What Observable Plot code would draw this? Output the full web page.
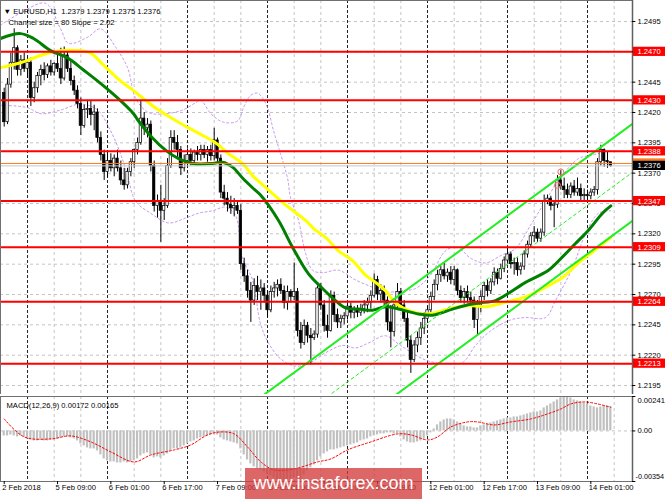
<!DOCTYPE html>
<html><head><meta charset="utf-8">
<script src="https://cdn.jsdelivr.net/npm/d3@7"></script>
<script src="https://cdn.jsdelivr.net/npm/@observablehq/plot@0.6"></script>
<style>
body{margin:0;background:#fff;font-family:"Liberation Sans",Arial,sans-serif;}
#wrap{position:relative;width:665px;height:499px;overflow:hidden;background:#fff;}
#main{position:absolute;left:0;top:0;}
#macd{position:absolute;left:0;top:394px;}
#wm{position:absolute;left:245px;top:468px;width:177px;height:34px;background:rgba(212,60,60,0.78);color:#fff;font-family:"Liberation Sans",Arial,sans-serif;font-size:18px;line-height:31px;text-align:center;}
</style></head><body>
<div id="wrap"><div id="main"></div><div id="macd"></div><div id="wm">www.instaforex.com</div></div>
<script>
// ---------- data ----------
const opens = [1.2436,1.2412,1.2443,1.2461,1.2473,1.2455,1.2463,1.2456,1.2461,1.2432,
1.2440,1.2450,1.2455,1.2451,1.2458,1.2453,1.2460,1.2456,1.2448,1.2467,
1.2456,1.2446,1.2438,1.2427,1.2409,1.2422,1.2423,1.2418,1.2420,1.2399,
1.2385,1.2371,1.2380,1.2374,1.2382,1.2374,1.2364,1.2360,1.2371,1.2379,
1.2389,1.2395,1.2415,1.2407,1.2410,1.2376,1.2343,1.2347,1.2339,1.2343,
1.2376,1.2399,1.2395,1.2389,1.2374,1.2380,1.2385,1.2380,1.2387,1.2385,
1.2389,1.2385,1.2389,1.2384,1.2397,1.2382,1.2354,1.2349,1.2344,1.2341,
1.2343,1.2339,1.2295,1.2285,1.2273,1.2265,1.2277,1.2272,1.2275,1.2269,
1.2257,1.2272,1.2275,1.2278,1.2273,1.2263,1.2272,1.2268,1.2272,1.2240,
1.2230,1.2244,1.2236,1.2234,1.2237,1.2275,1.2261,1.2244,1.2240,1.2269,
1.2253,1.2247,1.2250,1.2252,1.2260,1.2255,1.2257,1.2255,1.2258,1.2261,
1.2263,1.2269,1.2282,1.2270,1.2273,1.2265,1.2247,1.2239,1.2261,1.2272,
1.2261,1.2250,1.2232,1.2216,1.2228,1.2234,1.2242,1.2250,1.2257,1.2268,
1.2278,1.2286,1.2290,1.2285,1.2288,1.2282,1.2290,1.2273,1.2267,1.2272,
1.2267,1.2265,1.2249,1.2261,1.2268,1.2277,1.2273,1.2280,1.2288,1.2283,
1.2291,1.2298,1.2303,1.2295,1.2296,1.2290,1.2293,1.2303,1.2311,1.2318,
1.2321,1.2316,1.2321,1.2347,1.2349,1.2343,1.2344,1.2364,1.2359,1.2356,
1.2352,1.2359,1.2354,1.2357,1.2351,1.2352,1.2351,1.2354,1.2356,1.2379,
1.2389,1.2380,1.2379];
const highs = [1.2440,1.2448,1.2469,1.2489,1.2475,1.2467,1.2469,1.2465,1.2465,1.2445,
1.2453,1.2459,1.2461,1.2460,1.2463,1.2461,1.2467,1.2473,1.2474,1.2471,
1.2463,1.2450,1.2442,1.2432,1.2426,1.2430,1.2430,1.2426,1.2423,1.2404,
1.2389,1.2387,1.2386,1.2385,1.2389,1.2380,1.2374,1.2374,1.2382,1.2390,
1.2399,1.2430,1.2420,1.2415,1.2413,1.2380,1.2352,1.2360,1.2349,1.2382,
1.2405,1.2405,1.2401,1.2392,1.2385,1.2390,1.2390,1.2389,1.2392,1.2393,
1.2393,1.2392,1.2393,1.2407,1.2399,1.2385,1.2360,1.2354,1.2351,1.2349,
1.2347,1.2344,1.2300,1.2290,1.2280,1.2283,1.2285,1.2282,1.2279,1.2273,
1.2277,1.2280,1.2282,1.2283,1.2277,1.2277,1.2274,1.2296,1.2275,1.2247,
1.2249,1.2247,1.2242,1.2240,1.2277,1.2279,1.2265,1.2253,1.2273,1.2272,
1.2258,1.2253,1.2255,1.2263,1.2263,1.2260,1.2261,1.2262,1.2265,1.2267,
1.2273,1.2287,1.2285,1.2278,1.2277,1.2268,1.2261,1.2265,1.2279,1.2275,
1.2265,1.2257,1.2236,1.2232,1.2239,1.2247,1.2255,1.2260,1.2272,1.2282,
1.2290,1.2293,1.2296,1.2291,1.2293,1.2293,1.2291,1.2277,1.2275,1.2277,
1.2272,1.2268,1.2265,1.2273,1.2280,1.2282,1.2283,1.2292,1.2291,1.2295,
1.2301,1.2308,1.2305,1.2300,1.2300,1.2296,1.2306,1.2314,1.2321,1.2326,
1.2324,1.2324,1.2352,1.2352,1.2351,1.2347,1.2368,1.2372,1.2366,1.2361,
1.2362,1.2364,1.2366,1.2361,1.2357,1.2356,1.2357,1.2359,1.2382,1.2393,
1.2390,1.2387,1.2379];
const lows = [1.2408,1.2410,1.2440,1.2455,1.2450,1.2450,1.2453,1.2448,1.2425,1.2428,
1.2436,1.2442,1.2446,1.2448,1.2450,1.2450,1.2453,1.2443,1.2446,1.2453,
1.2442,1.2434,1.2423,1.2401,1.2407,1.2415,1.2409,1.2405,1.2395,1.2380,
1.2364,1.2366,1.2371,1.2367,1.2371,1.2360,1.2356,1.2357,1.2367,1.2374,
1.2385,1.2393,1.2401,1.2399,1.2371,1.2338,1.2333,1.2313,1.2331,1.2341,
1.2374,1.2389,1.2382,1.2368,1.2371,1.2374,1.2376,1.2377,1.2380,1.2380,
1.2382,1.2379,1.2380,1.2380,1.2379,1.2349,1.2343,1.2338,1.2336,1.2334,
1.2336,1.2290,1.2280,1.2267,1.2247,1.2261,1.2265,1.2257,1.2263,1.2251,
1.2255,1.2267,1.2268,1.2270,1.2258,1.2257,1.2263,1.2265,1.2235,1.2225,
1.2228,1.2230,1.2212,1.2232,1.2234,1.2257,1.2239,1.2234,1.2239,1.2247,
1.2242,1.2242,1.2245,1.2249,1.2250,1.2250,1.2251,1.2252,1.2254,1.2255,
1.2258,1.2267,1.2265,1.2263,1.2260,1.2240,1.2226,1.2235,1.2258,1.2257,
1.2247,1.2226,1.2205,1.2214,1.2222,1.2228,1.2237,1.2247,1.2254,1.2265,
1.2273,1.2280,1.2282,1.2280,1.2278,1.2277,1.2269,1.2263,1.2262,1.2263,
1.2261,1.2242,1.2236,1.2255,1.2265,1.2268,1.2270,1.2277,1.2278,1.2282,
1.2288,1.2295,1.2291,1.2286,1.2285,1.2286,1.2290,1.2300,1.2308,1.2313,
1.2313,1.2313,1.2318,1.2344,1.2339,1.2325,1.2341,1.2356,1.2349,1.2349,
1.2349,1.2351,1.2351,1.2347,1.2347,1.2347,1.2348,1.2351,1.2352,1.2376,
1.2375,1.2374,1.2375];
const closes = [1.2412,1.2443,1.2461,1.2473,1.2455,1.2463,1.2456,1.2461,1.2432,1.2440,
1.2450,1.2455,1.2451,1.2458,1.2453,1.2460,1.2456,1.2448,1.2467,1.2456,
1.2446,1.2438,1.2427,1.2409,1.2422,1.2423,1.2418,1.2420,1.2399,1.2385,
1.2371,1.2380,1.2374,1.2382,1.2374,1.2364,1.2360,1.2371,1.2379,1.2389,
1.2395,1.2415,1.2407,1.2410,1.2376,1.2343,1.2347,1.2339,1.2343,1.2376,
1.2399,1.2395,1.2389,1.2374,1.2380,1.2385,1.2380,1.2387,1.2385,1.2389,
1.2385,1.2389,1.2384,1.2397,1.2382,1.2354,1.2349,1.2344,1.2341,1.2343,
1.2339,1.2295,1.2285,1.2273,1.2265,1.2277,1.2272,1.2275,1.2269,1.2257,
1.2272,1.2275,1.2278,1.2273,1.2263,1.2272,1.2268,1.2272,1.2240,1.2230,
1.2244,1.2236,1.2234,1.2237,1.2275,1.2261,1.2244,1.2240,1.2269,1.2253,
1.2247,1.2250,1.2252,1.2260,1.2255,1.2257,1.2255,1.2258,1.2261,1.2263,
1.2269,1.2282,1.2270,1.2273,1.2265,1.2247,1.2239,1.2261,1.2272,1.2261,
1.2250,1.2232,1.2216,1.2228,1.2234,1.2242,1.2250,1.2257,1.2268,1.2278,
1.2286,1.2290,1.2285,1.2288,1.2282,1.2290,1.2273,1.2267,1.2272,1.2267,
1.2265,1.2249,1.2261,1.2268,1.2277,1.2273,1.2280,1.2288,1.2283,1.2291,
1.2298,1.2303,1.2295,1.2296,1.2290,1.2293,1.2303,1.2311,1.2318,1.2321,
1.2316,1.2321,1.2347,1.2349,1.2343,1.2344,1.2364,1.2359,1.2356,1.2352,
1.2359,1.2354,1.2357,1.2351,1.2352,1.2351,1.2354,1.2356,1.2379,1.2389,
1.2380,1.2379,1.2376];

const maGreenBars = [-1.1,4.9,8.8,13.9,19,23.8,28.9,34,38.8,40.3,44.5,48.4,52.3,56.5,62.5,65.5,68.5,71.5,74.5,76.9,82.3,86.5,91.3,95.5,99.4,102.4,106.3,110.5,114.4,118.3,124.3,128.5,134.5,138.4,142.3,147.4,151.3,156.4,163.3,167.5,171.4,175.3,179.5,182];
const maGreen = [1.2481,1.2485,1.2481,1.2471,1.2465,1.2455,1.2444,1.2432,1.2419,1.2413,1.2399,1.2389,1.2382,1.2378,1.2378,1.2379,1.2375,1.2366,1.2358,1.2352,1.2331,1.2309,1.2287,1.2275,1.2265,1.2259,1.2258,1.2257,1.2260,1.2258,1.2254,1.2253,1.2258,1.2261,1.2263,1.2265,1.2271,1.2280,1.2290,1.2301,1.2312,1.2323,1.2337,1.2343];
const maYellowBars = [-1.1,4.9,10.9,16.9,22,25.9,29.8,34.9,38.8,42.4,46.3,52.3,58.3,63.4,67.3,71.5,74.5,76.9,83.5,90.4,93.4,96.4,100.3,104.5,108.4,111.4,114.4,117.4,121.3,125.5,129.4,134.5,139.3,144.4,149.5,156.4,162.4,167.5,172.3,176.5,182];
const maYellow = [1.2457,1.2461,1.2467,1.2471,1.2471,1.2469,1.2459,1.2446,1.2438,1.2430,1.2422,1.2412,1.2403,1.2395,1.2386,1.2378,1.2368,1.2362,1.2346,1.2331,1.2323,1.2317,1.2306,1.2298,1.2286,1.2280,1.2273,1.2263,1.2257,1.2254,1.2255,1.2259,1.2261,1.2260,1.2263,1.2268,1.2276,1.2284,1.2296,1.2305,1.2317];

const bandUpperBars = [-1.1,4.9,12.4,16.9,19.3,25,28.9,33.4,37,39.4,43.3,48.4,53.5,57.4,59,62,65.8,70,71.8,73.9,76,77.5,79,80.8,82.9,85,85.9,88.3,90.4,92.5,95.5,100.3,105.4,110.5,114.4,118.9,123.4,127.9,132.4,136,139.9,144.4,148.9,153.4,157.9,162.4,166.3,172.3,176.5,182];
const bandUpper = [1.2492,1.2502,1.2510,1.2489,1.2477,1.2482,1.2489,1.2474,1.2457,1.2432,1.2420,1.2419,1.2422,1.2428,1.2430,1.2419,1.2412,1.2413,1.2424,1.2434,1.2436,1.2432,1.2424,1.2405,1.2386,1.2366,1.2350,1.2331,1.2304,1.2290,1.2288,1.2290,1.2282,1.2276,1.2272,1.2273,1.2275,1.2286,1.2306,1.2309,1.2300,1.2296,1.2302,1.2308,1.2327,1.2347,1.2364,1.2382,1.2385,1.2389];
const bandLowerBars = [-1.1,7,10.9,16.9,22.9,28,31.9,34.9,37,39.4,43.9,49.3,54.4,58.3,62.5,66.4,69.4,71.5,74.5,76.9,79.3,82.9,87.4,91.9,96.4,101.5,105.4,109.3,114.4,118.9,126.4,132.4,137.5,141.4,145.9,151.9,156.4,162.4,165.4,170.5,174.4,178.3,182];
const bandLower = [1.2426,1.2424,1.2419,1.2422,1.2427,1.2422,1.2405,1.2386,1.2368,1.2347,1.2337,1.2329,1.2333,1.2337,1.2339,1.2342,1.2335,1.2300,1.2282,1.2246,1.2230,1.2217,1.2211,1.2214,1.2222,1.2228,1.2226,1.2230,1.2236,1.2228,1.2216,1.2213,1.2214,1.2228,1.2240,1.2249,1.2251,1.2251,1.2265,1.2292,1.2320,1.2337,1.2339];

const channelBars = [78, 188.5];
const channelUpper = [1.21875, 1.24107];
const channelMiddle = [1.21475, 1.23707];
const channelLower = [1.21075, 1.23307];

const levels = [1.2470, 1.2430, 1.2388, 1.2347, 1.2309, 1.2264, 1.2213];
const bidPrice = 1.2376;
const askPrice = 1.2378;
const priceTicks = [1.2195,1.2220,1.2245,1.2270,1.2295,1.2320,1.2345,1.2370,1.2395,1.2420,1.2445,1.2470,1.2495];
const markerBars = [167, 166];
const markerPrices = [1.2371, 1.2360];

const macdHist = [-0.00035,-0.00035,-0.00028,-0.00035,-0.00042,-0.00035,-0.00042,
-0.00056,-0.00063,-0.0007,-0.0007,-0.00063,-0.0007,-0.0007,-0.00063,-0.00063,
-0.00056,-0.00049,-0.00042,-0.00042,-0.00049,-0.00056,
-0.0007,-0.00091,-0.00105,-0.00119,-0.00126,-0.00126,-0.0014,-0.00168,
-0.00196,-0.0021,-0.00217,-0.00217,-0.00224,-0.00224,-0.00217,-0.00224,-0.00217,-0.0021,
-0.00196,-0.00175,-0.00161,-0.00154,-0.00168,-0.00189,
-0.00182,-0.00189,-0.00175,-0.00161,
-0.0014,-0.00126,-0.00126,-0.00119,-0.00105,-0.00091,
-0.00077,-0.0007,-0.00056,-0.00049,-0.00042,-0.00035,-0.00028,-0.00021,
-0.00028,-0.00049,-0.00063,-0.0007,-0.00077,-0.00084,-0.00091,
-0.00126,-0.00168,-0.00203,-0.00231,-0.00252,-0.00266,-0.00273,
-0.00287,-0.00301,-0.00315,-0.00329,-0.00343,-0.0035,-0.00354,-0.00343,-0.00336,-0.00329,-0.00336,-0.00343,
-0.00308,-0.0028,-0.00259,-0.00238,-0.0021,-0.00182,-0.00161,-0.00147,
-0.00133,-0.00133,-0.00126,-0.00119,
-0.00112,-0.00105,-0.00098,-0.00091,-0.00084,-0.0007,-0.00063,-0.00056,
-0.00042,-0.00035,-0.00028,-0.00021,-0.00021,-0.00014,-0.00014,-0.00021,-0.00021,
-0.00042,-0.00063,-0.00077,-0.00084,-0.00084,-0.00077,-0.0007,-0.00056,
-0.00035,-0.00014,0.00014,0.00042,
0.00063,0.00077,0.00084,0.00084,0.00077,0.00063,
0.00049,0.00035,0.00028,0.00028,0.00021,0.00021,
0.00035,0.00042,0.00049,0.00056,0.00063,0.0007,0.00077,
0.00084,0.00091,0.00091,0.00098,0.00098,0.00105,
0.00112,0.00119,0.00126,0.00133,0.00133,0.0014,
0.00161,0.00175,0.00189,0.00203,0.00217,0.00231,
0.00241,0.00238,0.00231,0.00217,0.0021,
0.00203,0.00196,0.00189,0.00175,0.00168,
0.00161,0.00168,0.00175,0.00175,0.00172];
const signalBars = [0,6,14,20,26,32,39,44,51,56,61,65,69,73,77,81,87,94,98,103,110,118,122,127,130,134,139,142,147,152,158,163,167,170,174,178,182];
const signal = [0.00084,-0.00042,-0.00056,-0.00035,-0.00077,-0.00147,-0.00217,-0.00168,-0.00133,-0.00098,-0.00028,-0.00007,-0.00021,-0.00112,-0.00217,-0.00273,-0.00266,-0.00217,-0.00196,-0.00133,-0.00077,-0.00021,-0.00028,-0.00063,-0.00042,0.00028,0.00063,0.00063,0.00042,0.00063,0.00084,0.00119,0.00154,0.00189,0.00203,0.00189,0.00165];
const macdTicks = [0.00241, 0, -0.00354];
const macdTickLabels = ["0.00241", "0.00", "-0.00354"];

const labelBars = [0,16,32,48,64,80,96,112,128,144,160,176];
const xLabels = ["2 Feb 2018","5 Feb 09:00","6 Feb 01:00","6 Feb 17:00","7 Feb 09:00","8 Feb 01:00","8 Feb 17:00","9 Feb 09:00","12 Feb 01:00","12 Feb 17:00","13 Feb 09:00","14 Feb 01:00"];
const daySeparators = [7,31,55,79,103,127,151,175];
const gridBars = [15,23,39,47,63,71,87,95,111,119,135,143,159,167,183];

const titleText = "▼ EURUSD,H1  1.2379 1.2379 1.2375 1.2376";
const channelText = "Channel size = 80 Slope = 2.02";
const macdText = "MACD(12,26,9) 0.00172 0.00165";

// ---------- build ----------
const xDomain = [-1.11, 188.5];
const FONT = "Liberation Sans, Arial, sans-serif";
const FS = 7.6;
const bars = closes.map((c, i) => ({i, open: opens[i], high: highs[i], low: lows[i], close: c}));
const pts = (bs, vs) => bs.map((b, k) => ({b, v: vs[k]}));
const labH = 0.00038;
const BAND = "#c896ee";

const mainPlot = Plot.plot({
  width: 665, height: 394,
  marginLeft: 0, marginRight: 33, marginTop: 0, marginBottom: 0,
  x: {domain: xDomain, axis: null},
  y: {domain: [1.21876, 1.25123], axis: null},
  color: {type: "identity"},
  style: {fontFamily: FONT, fontSize: FS + "px", background: "#fff", color: "#000", overflow: "visible"},
  marks: [
    Plot.ruleY(priceTicks, {stroke: "#c4c4c4", strokeDasharray: "3,3"}),
    Plot.ruleX(gridBars, {stroke: "#c4c4c4", strokeDasharray: "3,3"}),
    Plot.ruleX(daySeparators, {stroke: "#222", strokeDasharray: "3,2"}),
    Plot.line(pts(bandUpperBars, bandUpper), {x: "b", y: "v", stroke: BAND, strokeWidth: 1, strokeDasharray: "2,2.5", curve: "catmull-rom", clip: true}),
    Plot.line(pts(bandLowerBars, bandLower), {x: "b", y: "v", stroke: BAND, strokeWidth: 1, strokeDasharray: "2,2.5", curve: "catmull-rom", clip: true}),
    Plot.ruleX(bars, {x: "i", y1: "low", y2: "high", stroke: "#000", strokeWidth: 1}),
    Plot.rect(bars, {x1: d => d.i - 0.36, x2: d => d.i + 0.36, y1: "open", y2: d => d.close === d.open ? d.close + 0.00004 : d.close,
      fill: d => d.close >= d.open ? "#fff" : "#000", stroke: "#000", strokeWidth: 0.7}),
    Plot.line(pts(maYellowBars, maYellow), {x: "b", y: "v", stroke: "#ffff00", strokeWidth: 3, curve: "catmull-rom", clip: true}),
    Plot.line(pts(maGreenBars, maGreen), {x: "b", y: "v", stroke: "#008000", strokeWidth: 3, curve: "catmull-rom", clip: true}),
    Plot.line(pts(channelBars, channelUpper), {x: "b", y: "v", stroke: "#22ee22", strokeWidth: 2, clip: true}),
    Plot.line(pts(channelBars, channelLower), {x: "b", y: "v", stroke: "#22ee22", strokeWidth: 2, clip: true}),
    Plot.line(pts(channelBars, channelMiddle), {x: "b", y: "v", stroke: "#22ee22", strokeWidth: 1, strokeDasharray: "3,3", clip: true}),
    Plot.ruleY(levels, {stroke: "#ff0000", strokeWidth: 2}),
    Plot.ruleY([askPrice], {stroke: "#ff7a20", strokeWidth: 1}),
    Plot.ruleY([bidPrice], {stroke: "#c8c8c8", strokeWidth: 1}),
    Plot.dot(pts(markerBars, markerPrices), {x: "b", y: "v", r: 3, stroke: "#ff6a6a", fill: "none", strokeWidth: 1}),
    Plot.frame({stroke: "#707070"}),
    Plot.ruleX([188.5], {stroke: "#606060", strokeWidth: 1.5}),
    Plot.ruleY(priceTicks, {x1: 188.5, x2: 189.5, stroke: "#000"}),
    Plot.text(priceTicks, {y: d => d, text: d => d.toFixed(4), frameAnchor: "right", dx: 5, textAnchor: "start", fontSize: FS, fill: "#000"}),
    Plot.rect(levels, {x1: 188.8, x2: 199, y1: d => d - labH, y2: d => d + labH, fill: "#ff0000"}),
    Plot.text(levels, {y: d => d, text: d => d.toFixed(4), frameAnchor: "right", dx: 5, textAnchor: "start", fontSize: FS, fill: "#fff"}),
    Plot.rect([askPrice], {x1: 188.8, x2: 199, y1: d => d - labH, y2: d => d + labH, fill: "#ff7a20"}),
    Plot.rect([bidPrice], {x1: 188.8, x2: 199, y1: d => d - labH, y2: d => d + labH, fill: "#000"}),
    Plot.text([bidPrice], {y: d => d, text: d => d.toFixed(4), frameAnchor: "right", dx: 5, textAnchor: "start", fontSize: FS, fill: "#fff"}),
    Plot.text([titleText], {text: d => d, frameAnchor: "top-left", dx: 3, dy: 8, textAnchor: "start", fontSize: FS, fill: "#000"}),
    Plot.text([channelText], {text: d => d, frameAnchor: "top-left", dx: 8, dy: 19, textAnchor: "start", fontSize: FS, fill: "#000"})
  ]
});
document.getElementById("main").append(mainPlot);

const macdPlot = Plot.plot({
  width: 665, height: 105,
  marginLeft: 0, marginRight: 33, marginTop: 2, marginBottom: 18,
  x: {domain: xDomain, axis: null},
  y: {domain: [-0.00354, 0.00241], axis: null},
  style: {fontFamily: FONT, fontSize: FS + "px", background: "#fff", color: "#000", overflow: "visible"},
  marks: [
    Plot.ruleX(gridBars, {stroke: "#c4c4c4", strokeDasharray: "3,3"}),
    Plot.ruleX(daySeparators, {stroke: "#222", strokeDasharray: "3,2"}),
    Plot.ruleY([0], {stroke: "#c4c4c4", strokeDasharray: "3,3"}),
    Plot.rect(macdHist.map((v, i) => ({i, v})), {x1: d => d.i - 0.33, x2: d => d.i + 0.33, y1: d => 0, y2: "v", fill: "#c0c0c0"}),
    Plot.line(pts(signalBars, signal), {x: "b", y: "v", stroke: "#ff0000", strokeDasharray: "2,2", strokeWidth: 1, curve: "catmull-rom"}),
    Plot.frame({stroke: "#707070"}),
    Plot.ruleX([188.5], {stroke: "#606060", strokeWidth: 1.5}),
    Plot.ruleY(macdTicks, {x1: 188.5, x2: 189.5, stroke: "#000"}),
    Plot.text([macdTicks[0]], {y: d => d, text: d => macdTickLabels[0], frameAnchor: "right", dx: 5, dy: 4, textAnchor: "start", fontSize: FS, fill: "#000"}),
    Plot.text([macdTicks[1]], {y: d => d, text: d => macdTickLabels[1], frameAnchor: "right", dx: 5, textAnchor: "start", fontSize: FS, fill: "#000"}),
    Plot.text([macdTicks[2]], {y: d => d, text: d => macdTickLabels[2], frameAnchor: "right", dx: 3, dy: -5, textAnchor: "start", fontSize: 7.2, fill: "#000"}),
    Plot.text([macdText], {text: d => d, frameAnchor: "top-left", dx: 6, dy: 6, textAnchor: "start", fontSize: FS, fill: "#000"}),
    Plot.ruleX(labelBars, {x: d => d, y1: -0.00354, y2: -0.00376, stroke: "#000"}),
    Plot.text(labelBars, {x: d => d, text: (d, k) => xLabels[k], frameAnchor: "bottom", dy: 8, dx: -2, textAnchor: "start", fontSize: FS, fill: "#000"})
  ]
});
document.getElementById("macd").append(macdPlot);
</script>
</body></html>
